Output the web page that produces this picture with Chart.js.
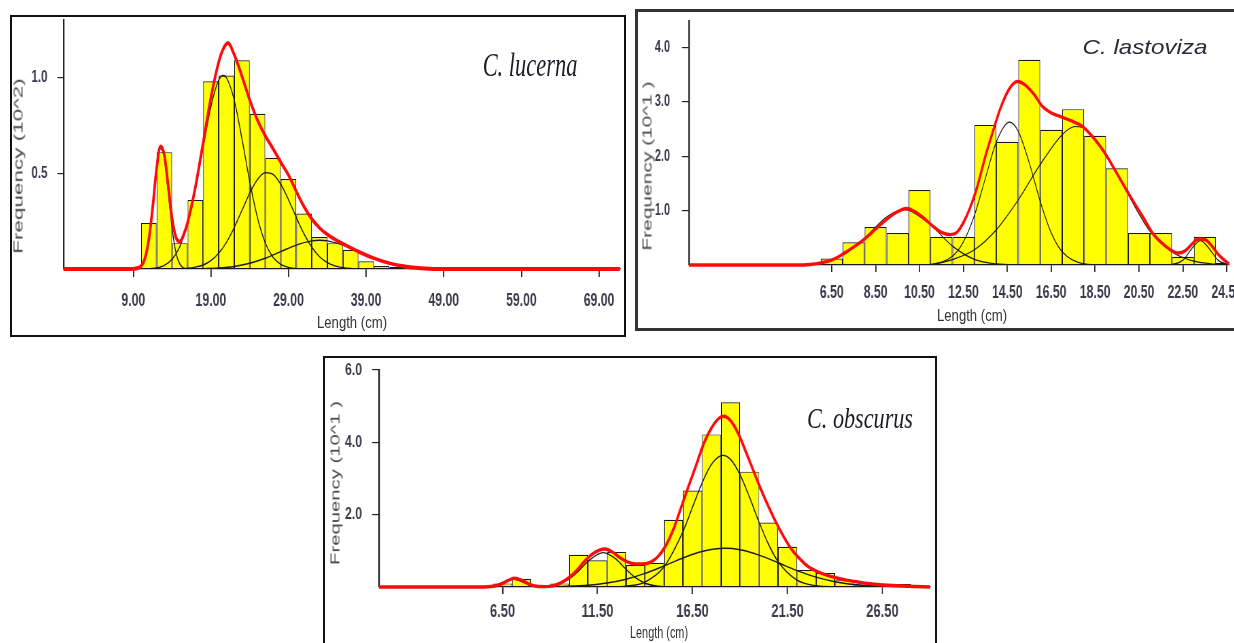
<!DOCTYPE html>
<html><head><meta charset="utf-8">
<script src="https://cdn.jsdelivr.net/npm/chart.js@4.4.1/dist/chart.umd.min.js"></script>
<style>
html,body{margin:0;padding:0;width:1234px;height:643px;overflow:hidden;background:#fff;position:relative;}
.box{position:absolute;box-sizing:border-box;background:#fff;}
canvas{position:absolute;}
.t{position:absolute;white-space:nowrap;line-height:1;}
.ax{font-family:"Liberation Sans",Arial,sans-serif;color:#333;font-size:16px;transform:translate(-50%,-50%) scaleX(0.82);}
.yt{font-family:"Liberation Sans",Arial,sans-serif;color:#4a4a4a;font-size:13px;}
.sp{font-family:"Liberation Serif","Times New Roman",serif;font-style:italic;color:#1c1c28;}
</style></head><body>
<div class="box" style="left:10px;top:15px;width:616px;height:322px;border:2px solid #111;"></div>
<div class="box" style="left:635px;top:9px;width:640px;height:322px;border:3px solid #333;"></div>
<div class="box" style="left:323px;top:356px;width:614px;height:300px;border:2px solid #111;"></div>
<canvas id="c1"></canvas>
<canvas id="c2"></canvas>
<canvas id="c3"></canvas>

<div class="t sp" style="left:530px;top:65px;font-size:34px;transform:translate(-50%,-50%) scaleX(0.66);">C. lucerna</div>
<div class="t" style="left:1145px;top:46px;font-size:21px;font-family:'Liberation Sans',Arial,sans-serif;font-style:italic;color:#2a2a3a;transform:translate(-50%,-50%) scaleX(1.15);">C. lastoviza</div>
<div class="t sp" style="left:860px;top:418px;font-size:29px;transform:translate(-50%,-50%) scaleX(0.765);">C. obscurus</div>

<div class="t ax" style="left:352px;top:323px;">Length (cm)</div>
<div class="t ax" style="left:972px;top:316px;">Length (cm)</div>
<div class="t ax" style="left:659px;top:633px;transform:translate(-50%,-50%) scaleX(0.68);">Length (cm)</div>

<div class="t yt" style="left:18px;top:166px;transform:translate(-50%,-50%) rotate(-90deg) scaleX(1.73);">Frequency (10^2)</div>
<div class="t yt" style="left:647px;top:166px;transform:translate(-50%,-50%) rotate(-90deg) scaleX(1.61);">Frequency (10^1 )</div>
<div class="t yt" style="left:335px;top:483px;transform:translate(-50%,-50%) rotate(-90deg) scaleX(1.56);">Frequency (10^1 )</div>

<script>
// ---------- Panel 1: C. lucerna (frequency x 10^2) ----------
const p1BinStart = [10,12,14,16,18,20,22,24,26,28,30,32,34,36,38,40,42];
const p1Counts   = [0.24,0.61,0.135,0.36,0.98,1.01,1.09,0.81,0.58,0.47,0.29,0.167,0.135,0.10,0.04,0.016,0.01];
const p1XTicks = [9,19,29,39,49,59,69];
const p1YTicks = [0.5,1.0];
const p1Red = [[0,0],[8,0],[9,0.001],[10,0.015],[10.5,0.055],[11,0.153],[11.5,0.322],[12,0.522],[12.5,0.64],[13,0.595],[13.5,0.434],[14,0.264],[14.5,0.165],[15,0.143],[15.5,0.18],[16,0.243],[17,0.427],[18,0.658],[19,0.894],[20,1.08],[20.6,1.15],[21.2,1.18],[22,1.12],[23,1.006],[24,0.883],[25,0.777],[26,0.696],[27,0.628],[28,0.557],[29,0.49],[30,0.405],[31,0.325],[32,0.261],[33,0.214],[34,0.18],[35,0.154],[36,0.132],[37,0.111],[38,0.091],[40,0.056],[42,0.03],[44,0.013],[46,0.004],[48,0],[71.7,0]];
const p1Comp1 = [[9,0],[10,0.015],[10.5,0.055],[11,0.153],[11.5,0.322],[12,0.516],[12.5,0.627],[13,0.576],[13.5,0.402],[14,0.213],[14.5,0.085],[15,0.026],[16,0.001],[18,0]];
const p1Comp2 = [[10,0],[12,0.006],[13,0.019],[14,0.051],[15,0.117],[16,0.237],[17,0.415],[18,0.635],[19,0.847],[20,0.986],[20.6,1.01],[21,0.999],[22,0.883],[23,0.68],[24,0.457],[25,0.268],[26,0.137],[27,0.061],[28,0.024],[29,0.008],[30,0.002],[32,0]];
const p1Comp3 = [[14,0],[16,0.004],[17,0.01],[18,0.021],[19,0.044],[20,0.082],[21,0.139],[22,0.216],[23,0.306],[24,0.396],[25,0.467],[26,0.503],[27,0.494],[28,0.442],[29,0.361],[30,0.269],[31,0.183],[32,0.114],[33,0.064],[34,0.033],[35,0.016],[36,0.007],[37,0.003],[40,0]];
const p1Comp4 = [[16,0],[18,0.002],[20,0.005],[22,0.013],[24,0.03],[26,0.056],[28,0.091],[30,0.125],[32,0.147],[33,0.15],[34,0.147],[36,0.125],[38,0.091],[40,0.056],[42,0.03],[44,0.013],[46,0.005],[48,0.002],[52,0]];

// ---------- Panel 2: C. lastoviza (frequency x 10^1) ----------
const p2BinStart = [6,7,8,9,10,11,12,13,14,15,16,17,18,19,20,21,22,23,24];
const p2Counts   = [0.12,0.42,0.70,0.59,1.38,0.52,0.52,2.58,2.27,3.78,2.49,2.87,2.38,1.78,0.59,0.59,0.15,0.52,0.04];
const p2XTicks = [6.5,8.5,10.5,12.5,14.5,16.5,18.5,20.5,22.5,24.5];
const p2YTicks = [1,2,3,4];
const p2Red = [[0,0],[5,0],[5.5,0.01],[6,0.04],[6.5,0.09],[7,0.2],[7.5,0.33],[8,0.48],[8.5,0.66],[9,0.84],[9.5,0.98],[9.9,1.04],[10.3,0.98],[10.7,0.86],[11.1,0.72],[11.5,0.6],[11.9,0.56],[12.2,0.6],[12.5,0.78],[12.8,1.05],[13.1,1.4],[13.5,2.0],[13.8,2.4],[14.2,2.9],[14.6,3.25],[14.95,3.38],[15.3,3.32],[15.7,3.15],[16.1,2.92],[16.5,2.8],[17,2.72],[17.5,2.64],[17.9,2.56],[18.3,2.4],[18.7,2.2],[19.1,1.96],[19.5,1.68],[19.9,1.4],[20.3,1.13],[20.7,0.87],[21.1,0.6],[21.5,0.42],[21.9,0.29],[22.3,0.22],[22.6,0.26],[22.9,0.38],[23.2,0.48],[23.5,0.47],[23.8,0.36],[24.1,0.2],[24.5,0.05],[24.6,0.02]];
const p2CompA = [[5,0],[6,0.041],[7,0.179],[8,0.496],[9,0.885],[9.8,1.02],[10,1.011],[11,0.741],[12,0.348],[13,0.105],[14,0.02],[15,0.003],[16,0]];
const p2CompB = [[10.5,0],[11,0.012],[12,0.161],[12.5,0.426],[13,0.913],[13.5,1.595],[14,2.266],[14.6,2.63],[15,2.462],[15.5,1.883],[16,1.17],[16.5,0.592],[17,0.244],[18,0.022],[19,0.001],[19.5,0]];
const p2CompC = [[11,0],[12,0.1],[13,0.28],[14,0.65],[15,1.2],[16,1.85],[17,2.4],[17.6,2.55],[18,2.52],[19,2.05],[20,1.3],[21,0.62],[22,0.24],[23,0.07],[24,0.015],[24.6,0]];
const p2CompE = [[21.5,0],[22,0.01],[22.5,0.09],[22.9,0.3],[23.3,0.45],[23.7,0.3],[24.1,0.09],[24.6,0]];

// ---------- Panel 3: C. obscurus (frequency x 10^1) ----------
const p3BinStart = [6,7,8,9,10,11,12,13,14,15,16,17,18,19,20,21,22,23,24,25,26,27,28];
const p3Counts   = [0.1,0.22,0,0.1,0.89,0.74,0.97,0.61,0.67,1.86,2.67,4.22,5.11,3.19,1.78,1.11,0.47,0.39,0.19,0.05,0.04,0.08,0.03];
const p3XTicks = [6.5,11.5,16.5,21.5,26.5];
const p3YTicks = [2,4,6];
const p3Red = [[0,0],[5.5,0],[6,0.02],[6.4,0.07],[6.8,0.18],[7.1,0.24],[7.5,0.19],[7.9,0.08],[8.3,0.02],[8.8,0.01],[9.2,0.04],[9.6,0.12],[10,0.26],[10.4,0.45],[10.8,0.7],[11.2,0.9],[11.6,1.02],[11.9,1.05],[12.3,0.96],[12.7,0.8],[13.1,0.69],[13.5,0.64],[13.9,0.64],[14.3,0.69],[14.7,0.85],[15.1,1.15],[15.5,1.6],[15.9,2.2],[16.3,2.8],[16.7,3.38],[17.1,3.98],[17.5,4.4],[17.9,4.67],[18.15,4.72],[18.5,4.6],[18.9,4.25],[19.3,3.75],[19.7,3.22],[20.1,2.7],[20.5,2.22],[20.9,1.78],[21.3,1.39],[21.7,1.05],[22.2,0.75],[22.6,0.56],[23.1,0.42],[23.6,0.32],[24.1,0.25],[24.6,0.19],[25.2,0.14],[25.7,0.1],[26.2,0.07],[27,0.04],[27.8,0.02],[29,0]];
const p3CompS = [[5.5,0],[6,0.026],[6.5,0.126],[7.05,0.23],[7.5,0.153],[8,0.038],[8.5,0.003],[9,0]];
const p3Comp2 = [[8.5,0],[9,0.027],[10,0.218],[10.5,0.44],[11,0.71],[11.8,0.95],[12.5,0.76],[13,0.49],[13.5,0.256],[14,0.105],[15,0.009],[16,0]];
const p3CompM = [[12,0],[13,0.023],[14,0.137],[15,0.557],[16,1.538],[16.5,2.208],[17,2.875],[17.5,3.394],[18.1,3.64],[18.5,3.528],[19,3.108],[19.5,2.483],[20,1.798],[20.5,1.182],[21,0.704],[22,0.187],[23,0.033],[24,0.004],[25,0]];
const p3CompB = [[8,0],[9,0.007],[10,0.02],[11,0.049],[12,0.109],[13,0.214],[14,0.375],[15,0.582],[16,0.802],[17,0.982],[18.2,1.07],[19,1.03],[20,0.882],[21,0.671],[22,0.453],[23,0.272],[24,0.145],[25,0.068],[26,0.029],[27,0.011],[28,0.004],[29,0]];

const TICK_FONT = '"Liberation Sans",Arial,sans-serif';
const TICK_COLOR = '#3a3a4c';
const toXY = a => a.map(p => ({x:p[0], y:p[1]}));

// Each canvas is drawn on a wider buffer and shown horizontally compressed by factor k
// (the reference graphic is horizontally squeezed). Geometry below is in page/CSS px.
function panel(id, o) {
  const cv = document.getElementById(id);
  const k = o.k;
  const W = Math.round(o.css.w / k), H = o.css.h;
  const kk = o.css.w / W;
  cv.width = W; cv.height = H;
  cv.style.left = o.css.left + 'px'; cv.style.top = o.css.top + 'px';
  cv.style.width = o.css.w + 'px'; cv.style.height = o.css.h + 'px';
  const aL = o.area.left / kk, aR = o.area.right / kk;
  const ds = [];
  ds.push({type:'line', data:toXY(o.red), borderColor:'#ff0a0a', borderWidth:o.redW, pointRadius:0,
           cubicInterpolationMode:'monotone', order:0, clip:6});
  o.comps.forEach(c => ds.push({type:'line', data:toXY(c), borderColor:'#1a1a1a', borderWidth:o.compW, pointRadius:0,
           cubicInterpolationMode:'monotone', order:1}));
  ds.push({type:'bar', data:o.bins.map((s,i)=>({x:s+o.binW/2, y:o.counts[i]})), backgroundColor:'#ffff00',
           borderColor:'#1a1a1a', borderWidth:{left:1.2, right:1.2, top:1.2, bottom:1}, borderSkipped:false,
           barPercentage:1, categoryPercentage:1, inflateAmount:0, order:2});
  new Chart(cv, {
    type:'bar',
    data:{datasets:ds},
    options:{
      responsive:false, animation:false, devicePixelRatio:1, events:[],
      layout:{padding:{left:0, top:o.area.top, right:W - aR, bottom:0}},
      plugins:{legend:{display:false}, tooltip:{enabled:false}, title:{display:false}},
      scales:{
        x:{type:'linear', min:o.xMin, max:o.xMax, offset:false,
           grid:{display:true, offset:false, drawOnChartArea:false, drawTicks:true, tickLength:o.xTL, color:'#222', lineWidth:1.8},
           border:{display:true, color:'#222', width:1.2},
           ticks:{autoSkip:false, maxRotation:0, minRotation:0, padding:o.xPad, color:TICK_COLOR,
                  font:{family:TICK_FONT, size:o.xFS, weight:'bold'}, callback:v => Number(v).toFixed(2)},
           afterBuildTicks: s => { s.ticks = o.xTicks.map(v => ({value:v})); },
           afterFit: s => { s.height = H - o.area.bottom; s.paddingLeft = 0; s.paddingRight = 0; }},
        y:{type:'linear', min:0, max:o.yMax,
           grid:{display:true, drawOnChartArea:false, drawTicks:true, tickLength:o.yTL / kk, color:'#222', lineWidth:1.2},
           border:{display:true, color:'#222', width:2.2},
           ticks:{padding:o.yPad / kk, color:TICK_COLOR, font:{family:TICK_FONT, size:o.yFS, weight:'bold'}, callback:v => Number(v).toFixed(1)},
           afterBuildTicks: s => { s.ticks = o.yTicks.map(v => ({value:v})); },
           afterFit: s => { s.width = aL; s.paddingTop = 0; s.paddingBottom = 0; }}
      }
    }
  });
}

panel('c1', {css:{left:12, top:17, w:611, h:317}, k:0.68,
  red:p1Red, comps:[p1Comp1,p1Comp2,p1Comp3,p1Comp4], bins:p1BinStart, counts:p1Counts, binW:2,
  xMin:0, xMax:71.7, yMax:1.3, xTicks:p1XTicks, yTicks:p1YTicks,
  area:{left:51.4, right:608, top:3, bottom:252}, redW:3.8, compW:1.4,
  xTL:8, xPad:13, xFS:18, yTL:6, yPad:10, yFS:17});
panel('c2', {css:{left:638, top:12, w:620, h:316}, k:0.68,
  red:p2Red, comps:[p2CompA,p2CompB,p2CompC,p2CompE], bins:p2BinStart, counts:p2Counts, binW:1,
  xMin:0, xMax:24.6, yMax:4.5, xTicks:p2XTicks, yTicks:p2YTicks,
  area:{left:51, right:591, top:8.6, bottom:253}, redW:3.4, compW:1.2,
  xTL:7, xPad:10, xFS:18, yTL:7, yPad:12, yFS:16});
panel('c3', {css:{left:325, top:359, w:610, h:284}, k:0.72,
  red:p3Red, comps:[p3CompS,p3Comp2,p3CompM,p3CompB], bins:p3BinStart, counts:p3Counts, binW:1,
  xMin:0, xMax:29, yMax:6, xTicks:p3XTicks, yTicks:p3YTicks,
  area:{left:54, right:605, top:11, bottom:228}, redW:3.4, compW:1.4,
  xTL:7, xPad:7, xFS:18, yTL:7, yPad:10, yFS:17});
</script>
</body></html>
